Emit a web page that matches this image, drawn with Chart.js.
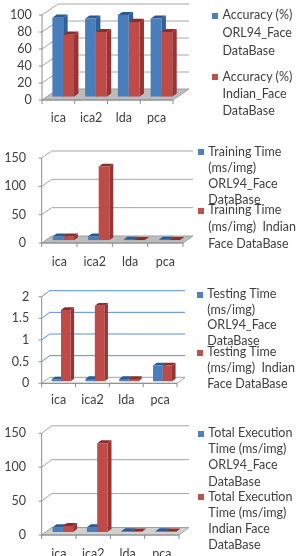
<!DOCTYPE html>
<html><head><meta charset="utf-8">
<script src="https://cdn.jsdelivr.net/npm/chart.js@4.4.0/dist/chart.umd.min.js"></script>
<style>
html,body{margin:0;padding:0;background:#fff;width:297px;height:556px;overflow:hidden;position:relative;}
.wrap{position:absolute;left:0;width:297px;}
canvas{display:block;}
.lg{position:absolute;font-family:Lato,sans-serif;font-size:12.5px;color:#404040;white-space:pre;}
.sq{position:absolute;width:6px;height:6px;}
</style></head><body>
<script>
// ---------- data ----------
const categories = ['ica', 'ica2', 'lda', 'pca'];

const accuracyORL    = [93, 92, 96, 92];
const accuracyIndian = [73, 76, 88, 76];

const trainingORL    = [7, 7, 1, 1];
const trainingIndian = [7, 130, 0.5, 0.5];

const testingORL     = [0.05, 0.06, 0.06, 0.37];
const testingIndian  = [1.65, 1.75, 0.06, 0.37];

const totalORL       = [7, 7, 1, 1];
const totalIndian    = [9, 131, 0.6, 0.6];

const accuracyTicks = [0, 20, 40, 60, 80, 100];
const trainingTicks = [0, 50, 100, 150];
const testingTicks  = [0, 0.5, 1, 1.5, 2];
const totalTicks    = [0, 50, 100, 150];

const accuracyLegend = [['Accuracy (%)', 'ORL94_Face', 'DataBase'], ['Accuracy (%)', 'Indian_Face', 'DataBase']];
const trainingLegend = [['Training Time', '(ms/img)', 'ORL94_Face', 'DataBase'], ['Training Time', '(ms/img)  Indian', 'Face DataBase']];
const testingLegend  = [['Testing Time', '(ms/img)', 'ORL94_Face', 'DataBase'], ['Testing Time', '(ms/img)  Indian', 'Face DataBase']];
const totalLegend    = [['Total Execution', 'Time (ms/img)', 'ORL94_Face', 'DataBase'], ['Total Execution', 'Time (ms/img)', 'Indian Face', 'DataBase']];

// ---------- styles / layout ----------
const BLUE = {front:'#4a7ebb', top:'#2c5993', side:'#30609a', key:'#4f81bd'};
const RED  = {front:'#be4b48', top:'#8a2e2c', side:'#963533', key:'#c0504d'};

const charts = [
  {series:[accuracyORL, accuracyIndian], ticks:accuracyTicks, legend:accuracyLegend,
   top:0, h:138, FL:42, FR:173, Y0:100, YM:15, DX:16, DY:-11, f1:0.3, f2:0.58, yLabelRight:31.7, xLabelY:118,
   grid:'#a6a6a6', floor:'#bdbdbd', catPct:0.66,
   textX:222.5, sqX:211.7, items:[{top:5.9, lh:18.3, sqY:12.5}, {top:67.5, lh:17, sqY:74}]},
  {series:[trainingORL, trainingIndian], ticks:trainingTicks, legend:trainingLegend,
   top:138, h:138, FL:41.7, FR:183, Y0:243, YM:158, DX:10, DY:-7, f1:0.4, f2:0.8, yLabelRight:26, xLabelY:261.7,
   grid:'#a6a6a6', floor:'#bdbdbd', catPct:0.6,
   textX:208.3, sqX:198.3, items:[{top:143.7, lh:16.1, sqY:149.3}, {top:202.4, lh:16.7, sqY:208.3}]},
  {series:[testingORL, testingIndian], ticks:testingTicks, legend:testingLegend,
   top:276, h:140, FL:41.7, FR:177, Y0:383.3, YM:296.7, DX:8, DY:-6, f1:0.3, f2:0.75, yLabelRight:29.3, xLabelY:400,
   grid:'#5b8fd0', floor:'#ffffff', catPct:0.56,
   textX:207.3, sqX:196.8, items:[{top:286, lh:15.7, sqY:291.7}, {top:344.3, lh:16, sqY:350}]},
  {series:[totalORL, totalIndian], ticks:totalTicks, legend:totalLegend,
   top:416, h:140, FL:41.7, FR:179, Y0:535, YM:433.3, DX:10, DY:-7.5, f1:0.4, f2:0.8, yLabelRight:26, xLabelY:554,
   grid:'#a6a6a6', floor:'#d0d0d0', catPct:0.6,
   textX:208.3, sqX:198.3, items:[{top:425.3, lh:16.1, sqY:430.7}, {top:489.3, lh:15.9, sqY:494}]}
];

const FONT = {family:'Lato', size:12.5};

function poly(ctx, pts, fill, stroke){
  ctx.beginPath();
  ctx.moveTo(pts[0][0], pts[0][1]);
  for (let i=1;i<pts.length;i++) ctx.lineTo(pts[i][0], pts[i][1]);
  ctx.closePath();
  if (fill){ctx.fillStyle = fill; ctx.fill();}
  if (stroke){ctx.strokeStyle = stroke; ctx.lineWidth = 1; ctx.stroke();}
}

const threeD = {
  id:'threeD',
  beforeDatasetsDraw(chart){
    const c = chart.options.plugins.threeD;
    const ctx = chart.ctx, ca = chart.chartArea, ys = chart.scales.y;
    const FL = ca.left - c.f1*c.DX, FR = ca.right - c.f1*c.DX;
    const yF = v => ys.getPixelForValue(v) - c.f1*c.DY;
    const DX = c.DX, DY = c.DY;
    ctx.save();
    // floor
    const y0 = yF(0);
    poly(ctx, [[FL,y0],[FR,y0],[FR+DX,y0+DY],[FL+DX,y0+DY]], c.floor, '#a0a0a0');
    // wall grid lines
    ctx.strokeStyle = c.grid; ctx.lineWidth = 1;
    c.ticks.forEach(v => {
      if (v === 0) return;
      const y = yF(v);
      ctx.beginPath();
      ctx.moveTo(FL, y); ctx.lineTo(FL+DX, y+DY); ctx.lineTo(FR+DX, y+DY);
      ctx.stroke();
    });
    // front axes
    ctx.strokeStyle = '#8c8c8c';
    ctx.beginPath();
    ctx.moveTo(FL, y0); ctx.lineTo(FL, yF(c.ticks[c.ticks.length-1]));
    c.ticks.forEach(v => { const y = yF(v); ctx.moveTo(FL-3, y); ctx.lineTo(FL, y); });
    ctx.moveTo(FL, y0); ctx.lineTo(FR, y0);
    const n = chart.data.labels.length, w = (FR-FL)/n;
    for (let i=0;i<=n;i++){ ctx.moveTo(FL+i*w, y0); ctx.lineTo(FL+i*w, y0+4); }
    ctx.stroke();
    // bar top and side faces
    const bx = (c.f2-c.f1)*DX, by = (c.f2-c.f1)*DY;
    const cols = [BLUE, RED];
    for (let i=0;i<n;i++){
      chart.data.datasets.forEach((ds, d) => {
        const el = chart.getDatasetMeta(d).data[i];
        const {x, y, base, width} = el.getProps(['x','y','base','width'], true);
        const Lx = x - width/2, Rx = x + width/2;
        poly(ctx, [[Rx,y],[Rx+bx,y+by],[Rx+bx,base+by],[Rx,base]], cols[d].side);
        poly(ctx, [[Lx,y],[Rx,y],[Rx+bx,y+by],[Lx+bx,y+by]], cols[d].top);
      });
    }
    ctx.restore();
  }
};

charts.forEach((c, k) => {
  const wrap = document.createElement('div');
  wrap.className = 'wrap';
  wrap.style.top = c.top + 'px';
  wrap.style.height = c.h + 'px';
  const cv = document.createElement('canvas');
  cv.width = 297; cv.height = c.h;
  cv.style.width = '297px'; cv.style.height = c.h + 'px';
  wrap.appendChild(cv);
  document.body.appendChild(wrap);

  const caLeft = c.FL + c.f1*c.DX, caRight = c.FR + c.f1*c.DX;
  const caBottom = c.Y0 + c.f1*c.DY - c.top, caTop = c.YM + c.f1*c.DY - c.top;
  const max = c.ticks[c.ticks.length-1];
  const XH = c.h - caBottom;
  const xTL = (c.xLabelY - c.top) - caBottom - 7.5;
  const yTL = caLeft - c.yLabelRight;

  new Chart(cv, {
    type:'bar',
    data:{
      labels:categories,
      datasets:[
        {data:c.series[0], backgroundColor:BLUE.front, borderWidth:0, categoryPercentage:c.catPct, barPercentage:1},
        {data:c.series[1], backgroundColor:RED.front, borderWidth:0, categoryPercentage:c.catPct, barPercentage:1}
      ]
    },
    options:{
      responsive:false, animation:false, events:[],
      layout:{padding:{left:0, right:297-caRight, top:caTop, bottom:0}},
      plugins:{legend:{display:false}, tooltip:{enabled:false},
        threeD:{f1:c.f1, f2:c.f2, DX:c.DX, DY:c.DY, ticks:c.ticks, grid:c.grid, floor:c.floor}},
      scales:{
        x:{grid:{display:false, drawTicks:true, tickLength:xTL}, border:{display:false},
           ticks:{font:FONT, color:'#404040', padding:0, labelOffset:-c.f1*c.DX, maxRotation:0, autoSkip:false},
           afterFit:s => { s.height = XH; }},
        y:{min:0, max:max, grid:{display:false, drawTicks:true, tickLength:yTL}, border:{display:false},
           ticks:{font:FONT, color:'#404040', stepSize:c.ticks[1]-c.ticks[0], padding:0, autoSkip:false,
                  labelOffset:-c.f1*c.DY, callback:v => String(+(+v).toFixed(3))},
           afterFit:s => { s.width = caLeft; }}
      }
    },
    plugins:[threeD]
  });

  // legend (HTML text)
  c.legend.forEach((lines, d) => {
    const it = c.items[d];
    const sq = document.createElement('div');
    sq.className = 'sq';
    sq.style.left = c.sqX + 'px'; sq.style.top = it.sqY + 'px';
    sq.style.background = d === 0 ? BLUE.key : RED.key;
    document.body.appendChild(sq);
    const t = document.createElement('div');
    t.className = 'lg';
    t.style.left = c.textX + 'px'; t.style.top = it.top + 'px';
    t.style.lineHeight = it.lh + 'px';
    t.textContent = lines.join('\n');
    document.body.appendChild(t);
  });
});
</script>
</body></html>
